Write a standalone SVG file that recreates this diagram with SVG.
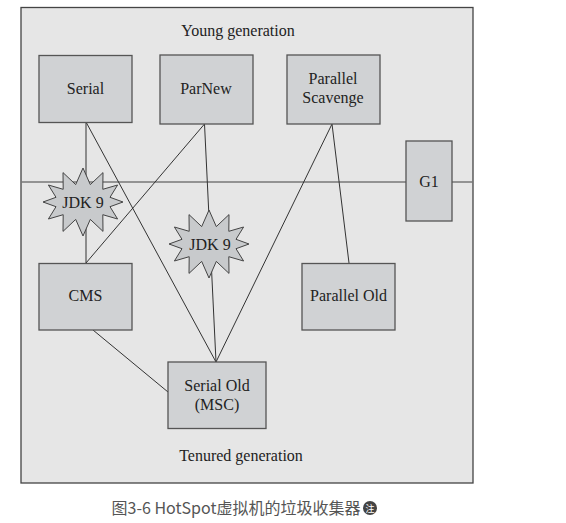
<svg xmlns="http://www.w3.org/2000/svg" width="566" height="523" viewBox="0 0 566 523">
<defs>
<style>
.box{fill:#d0d2d4;stroke:#555;stroke-width:1.3}
.t{font-size:16px;fill:#222;text-anchor:middle}
.c line{stroke:#333;stroke-width:1}
.star{fill:#c8cacc;stroke:#444;stroke-width:1}
</style>
<polygon id="starShape" points="40,0 27,4.7 34.6,17 19.8,12.7 20,29.4 7.3,17.4 0,34 -7.3,17.4 -20,29.4 -19.8,12.7 -34.6,17 -27,4.7 -40,0 -27,-4.7 -34.6,-17 -19.8,-12.7 -20,-29.4 -7.3,-17.4 0,-34 7.3,-17.4 20,-29.4 19.8,-12.7 34.6,-17 27,-4.7"/>
</defs>
<rect width="566" height="523" fill="#fff"/>
<g font-family="Liberation Serif, DejaVu Serif, serif">
<g id="frame">
<rect x="21" y="7.5" width="452" height="475.5" fill="#e6e6e6" stroke="#444" stroke-width="1.3"/>
<line x1="21" y1="182" x2="473" y2="182" stroke="#777" stroke-width="1.5"/>
<text class="t" x="238" y="36">Young generation</text>
<text class="t" x="241" y="461">Tenured generation</text>
</g>
<g id="connectors" class="c">
<line x1="86" y1="122" x2="86" y2="263"/>
<line x1="86" y1="122" x2="216" y2="362"/>
<line x1="204.5" y1="124" x2="86" y2="263"/>
<line x1="204.5" y1="124" x2="216" y2="362"/>
<line x1="332" y1="124" x2="216" y2="362"/>
<line x1="332" y1="124" x2="349" y2="263"/>
<line x1="93" y1="330" x2="168" y2="392"/>
</g>
<g id="jdk9-a">
<use href="#starShape" class="star" transform="translate(83,202)"/>
<text class="t" x="83" y="208">JDK 9</text>
</g>
<g id="jdk9-b">
<use href="#starShape" class="star" transform="translate(209,244)"/>
<text class="t" x="210" y="250">JDK 9</text>
</g>
<g id="serial">
<rect class="box" x="39" y="55.5" width="93" height="67"/>
<text class="t" x="85.5" y="94">Serial</text>
</g>
<g id="parnew">
<rect class="box" x="160" y="55" width="93" height="69"/>
<text class="t" x="206" y="94">ParNew</text>
</g>
<g id="parallel-scavenge">
<rect class="box" x="287" y="55" width="93" height="69"/>
<text class="t" x="333" y="84">Parallel</text>
<text class="t" x="333" y="103">Scavenge</text>
</g>
<g id="g1">
<rect class="box" x="406" y="141" width="46" height="80"/>
<text class="t" x="429" y="187">G1</text>
</g>
<g id="cms">
<rect class="box" x="39" y="263.5" width="93" height="66.5"/>
<text class="t" x="85.5" y="301">CMS</text>
</g>
<g id="parallel-old">
<rect class="box" x="302" y="263.5" width="93" height="66.5"/>
<text class="t" x="348.5" y="301">Parallel Old</text>
</g>
<g id="serial-old">
<rect class="box" x="168" y="362" width="98" height="66.5"/>
<text class="t" x="217" y="391">Serial Old</text>
<text class="t" x="217" y="410">(MSC)</text>
</g>
</g>
<g id="caption">
<text x="236" y="514" font-family="Noto Sans CJK SC, Noto Sans, sans-serif" font-size="16" fill="#555" text-anchor="middle">图3-6 HotSpot虚拟机的垃圾收集器</text>
<circle cx="370" cy="508" r="7" fill="#444"/>
<text x="370" y="511.5" font-family="Noto Sans CJK SC, sans-serif" font-size="9" fill="#fff" text-anchor="middle">注</text>
</g>
</svg>
